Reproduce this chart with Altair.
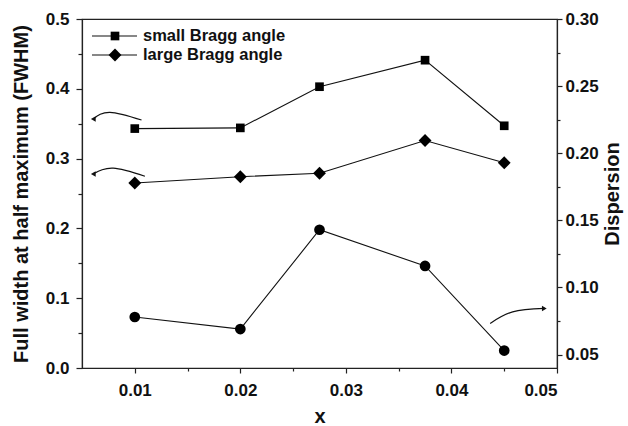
import altair as alt
import pandas as pd

# ---- data ----
x_vals = [0.01, 0.02, 0.0275, 0.0375, 0.045]
fwhm_small = [0.343, 0.344, 0.403, 0.441, 0.347]
fwhm_large = [0.265, 0.274, 0.279, 0.326, 0.294]
dispersion = [0.078, 0.069, 0.143, 0.116, 0.053]

legend_labels = ["small Bragg angle", "large Bragg angle"]

# curved annotation arrows (left-axis units)
arrow_id = ["a1", "a1", "a1", "a2", "a2", "a2", "a3", "a3", "a3"]
arrow_x = [0.01064, 0.00765, 0.00607, 0.01096, 0.00796, 0.00607, 0.04367, 0.04580, 0.0488]
arrow_y = [0.3553, 0.3663, 0.3567, 0.2747, 0.2863, 0.2781, 0.0639, 0.0804, 0.0853]
arrow_order = [0, 1, 2, 0, 1, 2, 0, 1, 2]
head_x = [0.00607, 0.00607, 0.0488]
head_y = [0.3567, 0.2781, 0.0853]
head_dir = ["left", "left", "right"]

FONT = "Liberation Sans"
INK = "#111111"

df_small = pd.DataFrame({"x": x_vals, "y": fwhm_small})
df_large = pd.DataFrame({"x": x_vals, "y": fwhm_large})
df_disp = pd.DataFrame({"x": x_vals, "y": dispersion})
df_arrow = pd.DataFrame({"id": arrow_id, "x": arrow_x, "y": arrow_y, "o": arrow_order})
df_head = pd.DataFrame({"x": head_x, "y": head_y, "dir": head_dir})

x_scale = alt.Scale(domain=[0.005, 0.05], nice=False, zero=False)
yl_scale = alt.Scale(domain=[0.0, 0.5], nice=False, zero=False)
yr_scale = alt.Scale(domain=[0.04, 0.30], nice=False, zero=False)

x_ticks = [round(0.01 + 0.005 * i, 4) for i in range(9)]
yl_ticks = [round(0.05 * i, 3) for i in range(11)]
yr_ticks = [round(0.05 + 0.025 * i, 4) for i in range(11)]

x_axis = alt.Axis(
    title="x", values=x_ticks, grid=False,
    labelExpr="round(datum.value*200) % 2 == 1 ? '' : format(datum.value, '.2f')",
    tickSize={"condition": {"test": "round(datum.value*200) % 2 == 1", "value": 3}, "value": 5},
    labelPadding=9, titlePadding=8, titleBaseline="top",
)
yl_axis = alt.Axis(
    title="Full width at half maximum (FWHM)", orient="left", values=yl_ticks, grid=False,
    labelExpr="round(datum.value*20) % 2 == 1 ? '' : format(datum.value, '.1f')",
    tickSize={"condition": {"test": "round(datum.value*20) % 2 == 1", "value": 4}, "value": 6},
    labelPadding=7, titlePadding=14,
)
yr_axis = alt.Axis(
    title="Dispersion", orient="right", values=yr_ticks, grid=False,
    labelExpr="round(datum.value*40) % 2 == 1 ? '' : format(datum.value, '.2f')",
    tickSize={"condition": {"test": "round(datum.value*40) % 2 == 1", "value": 3}, "value": 5},
    labelPadding=3, titlePadding=4, titleAngle=-90, titleBaseline="top",
)

X = alt.X("x:Q", scale=x_scale, axis=x_axis)
YL = alt.Y("y:Q", scale=yl_scale, axis=yl_axis)

line_small = alt.Chart(df_small).mark_line(color=INK, strokeWidth=1.1).encode(x=X, y=YL)
pts_small = alt.Chart(df_small).mark_point(shape="square", filled=True, size=75, color="#000000", opacity=1).encode(x=X, y=YL)
line_large = alt.Chart(df_large).mark_line(color=INK, strokeWidth=1.1).encode(x=X, y=YL)
pts_large = alt.Chart(df_large).mark_point(shape="diamond", filled=True, size=165, color="#000000", opacity=1).encode(x=X, y=YL)

arrows = alt.Chart(df_arrow).mark_line(color=INK, strokeWidth=1.2, interpolate="natural").encode(
    x=X, y=YL, detail="id:N", order="o:Q")
heads = alt.Chart(df_head).mark_point(filled=True, size=30, color=INK, opacity=1).encode(
    x=X, y=YL,
    shape=alt.Shape("dir:N", scale=alt.Scale(domain=["left", "right"], range=["triangle-left", "triangle-right"]), legend=None))

# hand-made legend (pixel positions inside plot area)
legend_layers = []
for i, (lab, shp, sz) in enumerate(zip(legend_labels, ["square", "diamond"], [75, 165])):
    d = pd.DataFrame({"label": [lab]})
    yy = 17 + 19 * i
    legend_layers.append(alt.Chart(d).mark_rule(color=INK, strokeWidth=1.1).encode(
        x=alt.value(10), x2=alt.value(55), y=alt.value(yy)))
    legend_layers.append(alt.Chart(d).mark_point(shape=shp, filled=True, size=sz, color="#000000", opacity=1).encode(
        x=alt.value(33), y=alt.value(yy)))
    legend_layers.append(alt.Chart(d).mark_text(align="left", baseline="middle", font=FONT, fontWeight="bold",
                                                fontSize=16.5, color=INK).encode(
        x=alt.value(61), y=alt.value(yy), text="label:N"))

left_layer = alt.layer(line_small, pts_small, line_large, pts_large, arrows, heads, *legend_layers)

YR = alt.Y("y:Q", scale=yr_scale, axis=yr_axis)
line_disp = alt.Chart(df_disp).mark_line(color=INK, strokeWidth=1.1).encode(x=X, y=YR)
pts_disp = alt.Chart(df_disp).mark_point(shape="circle", filled=True, size=115, color="#000000", opacity=1).encode(x=X, y=YR)
right_layer = alt.layer(line_disp, pts_disp)

chart = alt.layer(left_layer, right_layer).resolve_scale(y="independent", shape="independent").properties(
    width=475, height=349,
    autosize=alt.AutoSizeParams(type="none"),
    padding={"left": 82, "top": 19, "right": 71, "bottom": 58},
    background="white",
).configure_view(stroke="#222222", strokeWidth=1.2).configure_axis(
    domainColor="#222222", domainWidth=1.2, tickColor="#222222", tickWidth=1.2,
    labelFont=FONT, labelFontWeight="bold", labelFontSize=17, labelColor=INK,
    titleFont=FONT, titleFontWeight="bold", titleFontSize=20, titleColor=INK,
)

chart.save("out.html", embed_options={"renderer": "svg", "actions": False})
